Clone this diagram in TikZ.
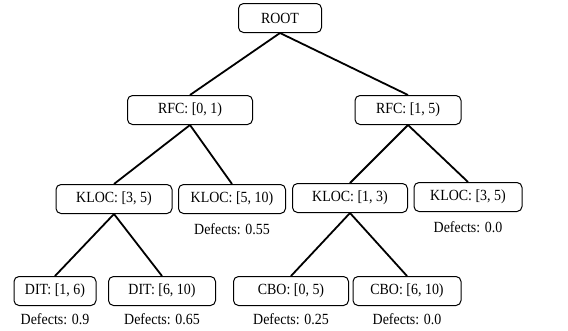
\documentclass[tikz,border=0pt]{standalone}
\usepackage{fontspec}
\setmainfont[FakeStretch=0.9]{Liberation Serif}
\usepackage{tikz}
\usetikzlibrary{positioning}

\tikzset{
	splitbox/.style={draw,rounded corners=5pt,line width=1pt,minimum height=29pt,inner sep=2pt,font=\fontsize{15.5}{18}\selectfont},
	defnote/.style={font=\fontsize{15.5}{18}\selectfont,inner sep=1pt},
	branch/.style={line width=1.8pt}
}

\begin{document}
\begin{tikzpicture}[x=1pt,y=-1pt]
			
			\useasboundingbox (0,0) rectangle (568,330);
			
			\node[splitbox,minimum width=83pt] (root) at (280,18) {ROOT};
			
			\node[splitbox,minimum width=125pt] (rfcL) at (190,110) {RFC: [0, 1)};
			\node[splitbox,minimum width=106pt] (rfcR) at (408,110) {RFC: [1, 5)};
			
			\node[splitbox,minimum width=116pt] (klocA) at (114,199) {KLOC: [3, 5)};
			\node[splitbox,minimum width=107pt] (klocB) at (232,199) {KLOC: [5, 10)};
			\node[splitbox,minimum width=115pt] (klocC) at (350,198) {KLOC: [1, 3)};
			\node[splitbox,minimum width=108pt] (klocD) at (468,197) {KLOC: [3, 5)};
			
			\node[splitbox,minimum width=82pt] (ditA) at (55,291) {DIT: [1, 6)};
			\node[splitbox,minimum width=107pt] (ditB) at (162,291) {DIT: [6, 10)};
			\node[splitbox,minimum width=115pt] (cboA) at (291,291) {CBO: [0, 5)};
			\node[splitbox,minimum width=108pt] (cboB) at (407,291) {CBO: [6, 10)};
			
			\node[defnote] (defB) at (232,229) {Defects: 0.55};
			\node[defnote] (defD) at (468,227) {Defects: 0.0};
			\node[defnote] (defDA) at (55,319) {Defects: 0.9};
			\node[defnote] (defDB) at (162,319) {Defects: 0.65};
			\node[defnote] (defCA) at (291,319) {Defects: 0.25};
			\node[defnote] (defCB) at (407,319) {Defects: 0.0};
			
			\draw[branch] (root.south) -- (rfcL.north);
			\draw[branch] (root.south) -- (rfcR.north);
			\draw[branch] (rfcL.south) -- (klocA.north);
			\draw[branch] (rfcL.south) -- (klocB.north);
			\draw[branch] (rfcR.south) -- (klocC.north);
			\draw[branch] (rfcR.south) -- (klocD.north);
			\draw[branch] (klocA.south) -- (ditA.north);
			\draw[branch] (klocA.south) -- (ditB.north);
			\draw[branch] (klocC.south) -- (cboA.north);
			\draw[branch] (klocC.south) -- (cboB.north);
			
		\end{tikzpicture}
\end{document}
